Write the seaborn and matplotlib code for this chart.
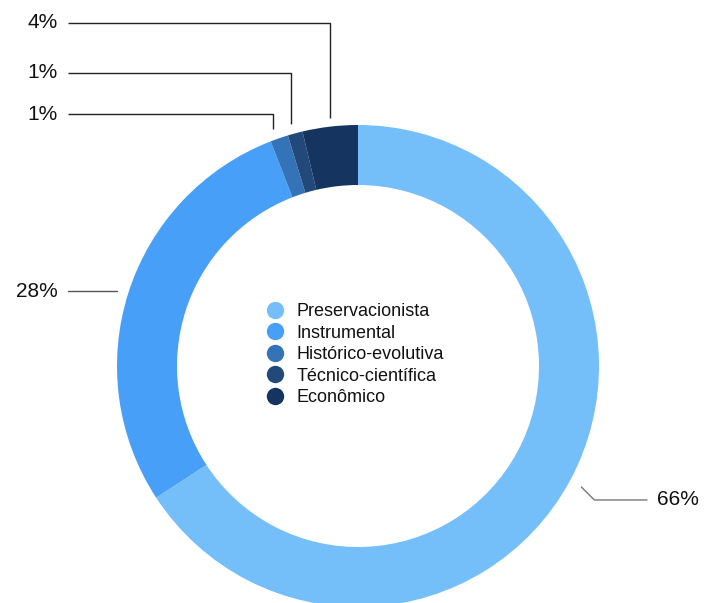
import numpy as np
import matplotlib
matplotlib.use("Agg")
import matplotlib.pyplot as plt
from matplotlib.lines import Line2D
import seaborn as sns

categories = ["Preservacionista", "Instrumental", "Histórico-evolutiva", "Técnico-científica", "Econômico"]
values = [65.8, 28.3, 1.2, 1.0, 3.7]
pct_labels = ["66%", "28%", "1%", "1%", "4%"]
colors = ["#74BFFA", "#479FF8", "#3473B7", "#23497A", "#15345F"]

sns.set_theme(style="white")
plt.rcParams["font.family"] = ["Liberation Sans", "DejaVu Sans"]
palette = sns.color_palette(colors)

W, H = 704, 603
fig = plt.figure(figsize=(W / 100, H / 100), dpi=100)
ax = fig.add_axes([0, 0, 1, 1])

cx, cy, R, ring = 358, H - 366, 241, 60
wedges, _ = ax.pie(values, colors=palette, startangle=90, counterclock=False,
                   radius=R, center=(cx, cy), frame=True,
                   wedgeprops=dict(width=ring, edgecolor="none", linewidth=0))
ax.set_xlim(0, W)
ax.set_ylim(0, H)
ax.set_aspect("equal")
ax.axis("off")

def mid_angle(w):
    return np.deg2rad((w.theta1 + w.theta2) / 2)

fs = 15
line_kw = dict(color="#222222", lw=1.0, solid_capstyle="butt")

# top small slices: Econômico, Técnico, Histórico
top_levels = {4: (H - 23, 0), 3: (H - 73, -4), 2: (H - 114, -6)}
for i, (ylev, dx) in top_levels.items():
    a = mid_angle(wedges[i])
    x = cx + R * np.cos(a) + dx
    ytop = cy + R * np.sin(a) + 9
    ax.plot([x, x, 68], [ytop, ylev, ylev], **line_kw)
    ax.text(58, ylev, pct_labels[i], ha="right", va="center", fontsize=fs, color="#111111")

# Instrumental (left)
a = mid_angle(wedges[1])
yl = cy + R * np.sin(a) + 1
ax.plot([68, 117], [yl, yl], color="#555555", lw=1.0)
ax.text(58, yl, pct_labels[1], ha="right", va="center", fontsize=fs, color="#111111")

# Preservacionista (right)
a = mid_angle(wedges[0])
x0 = cx + (R + 13) * np.cos(a)
y0 = cy + (R + 13) * np.sin(a)
ax.plot([x0, x0 + 13, 647], [y0, y0 - 13, y0 - 13], color="#777777", lw=1.0)
ax.text(657, y0 - 13, pct_labels[0], ha="left", va="center", fontsize=fs, color="#111111")

handles = [Line2D([0], [0], marker="o", linestyle="none", markersize=12.5,
                  markerfacecolor=c, markeredgecolor="none") for c in palette]
leg = ax.legend(handles, categories, loc="upper left", bbox_to_anchor=(264 / W, 1 - 303 / H),
                frameon=False, fontsize=13, handletextpad=0.58, labelspacing=0.25,
                borderpad=0, handlelength=1.2, borderaxespad=0)
for t in leg.get_texts():
    t.set_color("#111111")

fig.savefig("out.png", dpi=100, facecolor="white")
